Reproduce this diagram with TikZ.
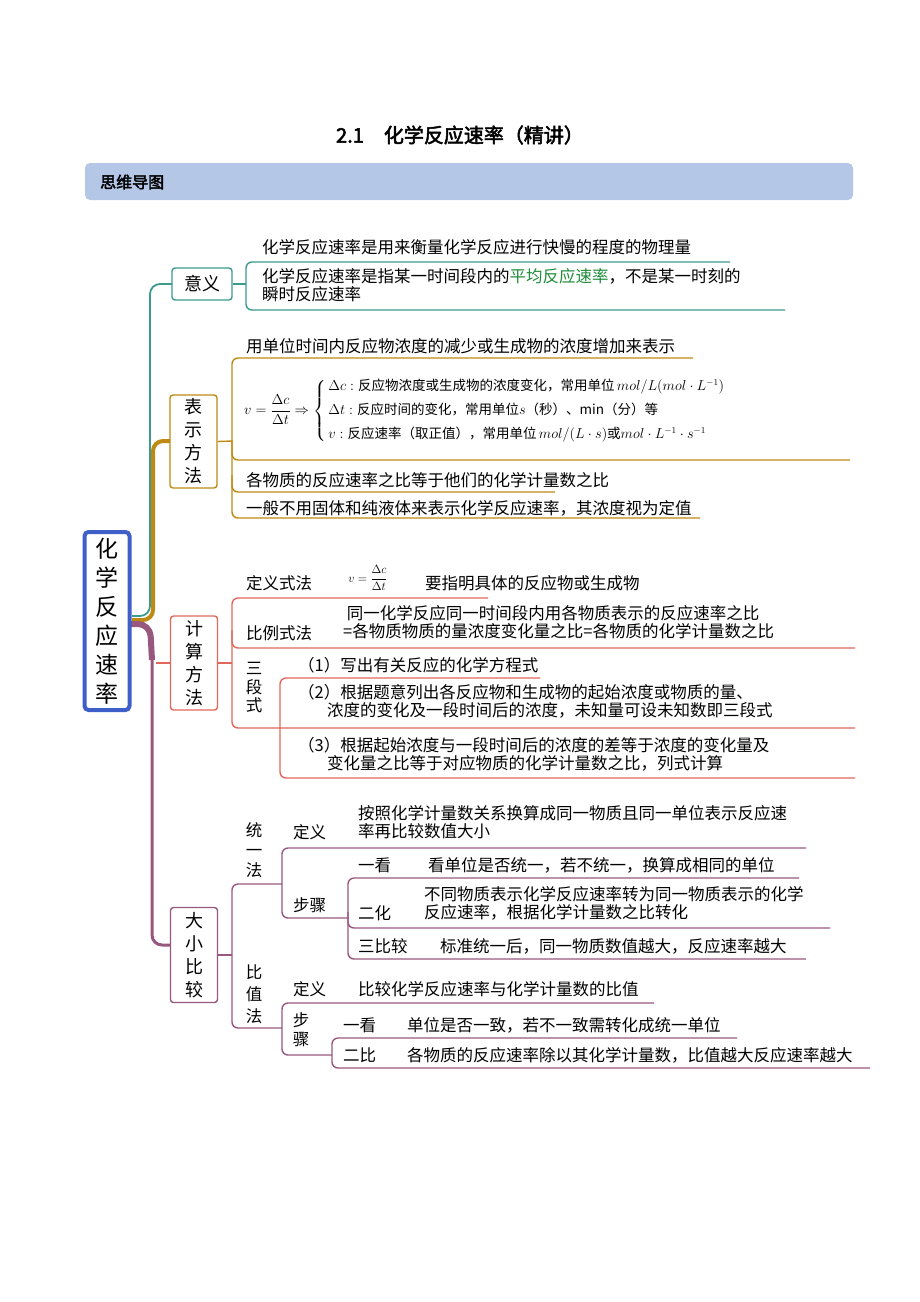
\documentclass[tikz,border=0pt]{standalone}
\usepackage{fontspec}
\setmainfont{Noto Sans CJK SC}[AutoFakeBold=2.5]
\usepackage{amsmath}
\definecolor{teal1}{HTML}{3C9A8F}
\definecolor{gold1}{HTML}{BF8A14}
\definecolor{red1}{HTML}{E0675A}
\definecolor{purp1}{HTML}{98577F}
\definecolor{blue1}{HTML}{3F5FC8}
\definecolor{head1}{HTML}{B4C7E7}
\definecolor{green1}{HTML}{1E8C3A}
\newcommand\fs{\fontsize{16.5}{18.5}\selectfont}
\tikzset{
 txt/.style={anchor=base west,inner sep=0pt,font=\fs},
 mtxt/.style={anchor=north west,inner sep=0pt,font=\fs,align=left},
 vtxt/.style={inner sep=0pt,font=\fs,align=center},
 box/.style={draw=#1,line width=1.4pt,rounded corners=3pt,minimum width=47pt,inner sep=0pt,font=\fontsize{18}{23}\selectfont,align=center},
 br/.style={draw=#1,line width=1.4pt,rounded corners=6pt},
}
\begin{document}
\begin{tikzpicture}[x=1pt,y=-1pt]
\useasboundingbox (0,0) rectangle (920,1302);
% title & header
\node[font=\fontsize{20}{24}\selectfont\bfseries] (title) at (460,135) {2.1\quad 化学反应速率（精讲）};
\node[fill=head1,rounded corners=5pt,minimum width=768pt,minimum height=37pt,inner sep=0pt] (hbar) at (469,181.5) {};
\node[anchor=west,font=\fontsize{16}{18}\selectfont\bfseries,inner sep=0pt] (htxt) at (100,182) {思维导图};
% trunks
\draw[teal1,line width=1.8pt,rounded corners=10pt] (132,616) -- (150,616) -- (150,284) -- (172,284);
\draw[gold1,line width=4pt,rounded corners=10pt] (132,620) -- (153,620) -- (153,441) -- (170,441);
\draw[purp1,line width=6pt,rounded corners=12pt] (130,624) -- (150,624) -- (152,660);
\draw[purp1,line width=3pt,rounded corners=10pt] (152,650) -- (152,945) -- (170,945);
\draw[red1,line width=2pt] (156,663) -- (170,663);
% root
\node[draw=blue1,line width=4pt,rounded corners=4pt,minimum width=45pt,minimum height=178pt,inner sep=0pt,font=\fontsize{23}{29}\selectfont,align=center] (root) at (107,621) {化\\学\\反\\应\\速\\率};
% 意义
\node[box=teal1,minimum width=60pt,minimum height=32pt] (yy) at (202,284) {意义};
\coordinate (yyb) at (246,284);
\draw[teal1,line width=1.4pt] (yy.east) -- (yyb);
\draw[br=teal1] (730,262) -- (246,262) -- (246,310) -- (785,310);
\node[txt] (y1) at (262,253) {化学反应速率是用来衡量化学反应进行快慢的程度的物理量};
\node[mtxt] (y2) at (262,268) {化学反应速率是指某一时间段内的\textcolor{green1}{平均反应速率}，不是某一时刻的\\瞬时反应速率};
% 表示方法
\node[box=gold1,minimum height=93pt] (bs) at (193.5,441.5) {表\\示\\方\\法};
\coordinate (bsb) at (232,441);
\draw[gold1,line width=1.4pt] (bs.east) -- (bsb);
\draw[br=gold1] (693,358) -- (232,358) -- (232,518) -- (700,518);
\draw[br=gold1] (232,440) -- (232,460) -- (850,460);
\draw[br=gold1] (232,475) -- (232,492) -- (555,492);
\node[txt] (b1) at (246,352) {用单位时间内反应物浓度的减少或生成物的浓度增加来表示};
\node[anchor=west,inner sep=0pt,font=\fontsize{13.5}{15}\selectfont] (bf) at (244,411)
 {$v=\dfrac{\Delta c}{\Delta t}\Rightarrow\left\{\,\begin{array}{@{}l@{}}
 \Delta c:\text{反应物浓度或生成物的浓度变化，常用单位}\,mol/L(mol\cdot L^{-1})\\[8pt]
 \Delta t:\text{反应时间的变化，常用单位}s\text{（秒）、min（分）等}\\[8pt]
 v:\text{反应速率（取正值），常用单位}\,mol/(L\cdot s)\text{或}mol\cdot L^{-1}\cdot s^{-1}
 \end{array}\right.$};
\node[txt] (b2) at (246,486) {各物质的反应速率之比等于他们的化学计量数之比};
\node[txt] (b3) at (246,514) {一般不用固体和纯液体来表示化学反应速率，其浓度视为定值};
% 计算方法
\node[box=red1,minimum height=94pt] (js) at (194,663) {计\\算\\方\\法};
\coordinate (jsb) at (232,663);
\draw[red1,line width=1.4pt] (js.east) -- (jsb);
\draw[br=red1] (488,598) -- (232,598) -- (232,728) -- (855,728);
\draw[br=red1] (232,630) -- (232,648) -- (855,648);
\draw[br=red1] (540,678) -- (280,678) -- (280,778) -- (855,778);
\node[txt] (j1) at (246,589) {定义式法};
\node[font=\fontsize{12}{14}\selectfont,inner sep=0pt] (j1f) at (368,578) {$v=\dfrac{\Delta c}{\Delta t}$};
\node[txt] (j1t) at (425,589) {要指明具体的反应物或生成物};
\node[txt] (j2) at (246,639) {比例式法};
\node[mtxt] (j2t) at (343,605) {\ 同一化学反应同一时间段内用各物质表示的反应速率之比\\=各物质物质的量浓度变化量之比=各物质的化学计量数之比};
\node[vtxt] (sd) at (254,688) {三\\段\\式};
\node[txt] (s1) at (298,671) {（1）写出有关反应的化学方程式};
\node[mtxt] (s2) at (298,684) {（2）根据题意列出各反应物和生成物的起始浓度或物质的量、\\\hspace{29pt}浓度的变化及一段时间后的浓度，未知量可设未知数即三段式};
\node[mtxt] (s3) at (298,737) {（3）根据起始浓度与一段时间后的浓度的差等于浓度的变化量及\\\hspace{29pt}变化量之比等于对应物质的化学计量数之比，列式计算};
% 大小比较
\node[box=purp1,minimum height=95pt] (dx) at (194,955) {大\\小\\比\\较};
\coordinate (dxb) at (232,955);
\draw[purp1,line width=1.4pt] (dx.east) -- (dxb);
\draw[br=purp1] (282,884) -- (232,884) -- (232,1028) -- (282,1028);
\draw[br=purp1] (806,848) -- (282,848) -- (282,918) -- (348,918);
\draw[br=purp1] (799,878) -- (348,878) -- (348,959) -- (806,959);
\draw[br=purp1] (348,912) -- (348,928) -- (830,928);
\draw[br=purp1] (654,1003) -- (282,1003) -- (282,1055) -- (332,1055);
\draw[br=purp1] (737,1038) -- (332,1038) -- (332,1068) -- (870,1068);
\node[vtxt,font=\fontsize{16.5}{20}\selectfont] (tyf) at (254,850) {统\\一\\法};
\node[txt] (ty1) at (293,838) {定义};
\node[mtxt] (ty1t) at (358,805) {按照化学计量数关系换算成同一物质且同一单位表示反应速\\率再比较数值大小};
\node[txt] (ty2) at (293,911) {步骤};
\node[txt] (k1) at (358,871) {一看};
\node[txt] (k1t) at (428,871) {看单位是否统一，若不统一，换算成相同的单位};
\node[txt] (k2) at (358,919) {二化};
\node[mtxt] (k2t) at (424,886) {不同物质表示化学反应速率转为同一物质表示的化学\\反应速率，根据化学计量数之比转化};
\node[txt] (k3) at (358,952) {三比较};
\node[txt] (k3t) at (440,952) {标准统一后，同一物质数值越大，反应速率越大};
\node[vtxt,font=\fontsize{16.5}{22}\selectfont] (bzf) at (254,994) {比\\值\\法};
\node[txt] (bz1) at (293,995) {定义};
\node[txt] (bz1t) at (358,995) {比较化学反应速率与化学计量数的比值};
\node[vtxt,font=\fontsize{16.5}{19}\selectfont] (bz2) at (301,1030) {步\\骤};
\node[txt] (m1) at (343,1031) {一看};
\node[txt] (m1t) at (407,1031) {单位是否一致，若不一致需转化成统一单位};
\node[txt] (m2) at (343,1061) {二比};
\node[txt] (m2t) at (407,1061) {各物质的反应速率除以其化学计量数，比值越大反应速率越大};
\end{tikzpicture}
\end{document}
